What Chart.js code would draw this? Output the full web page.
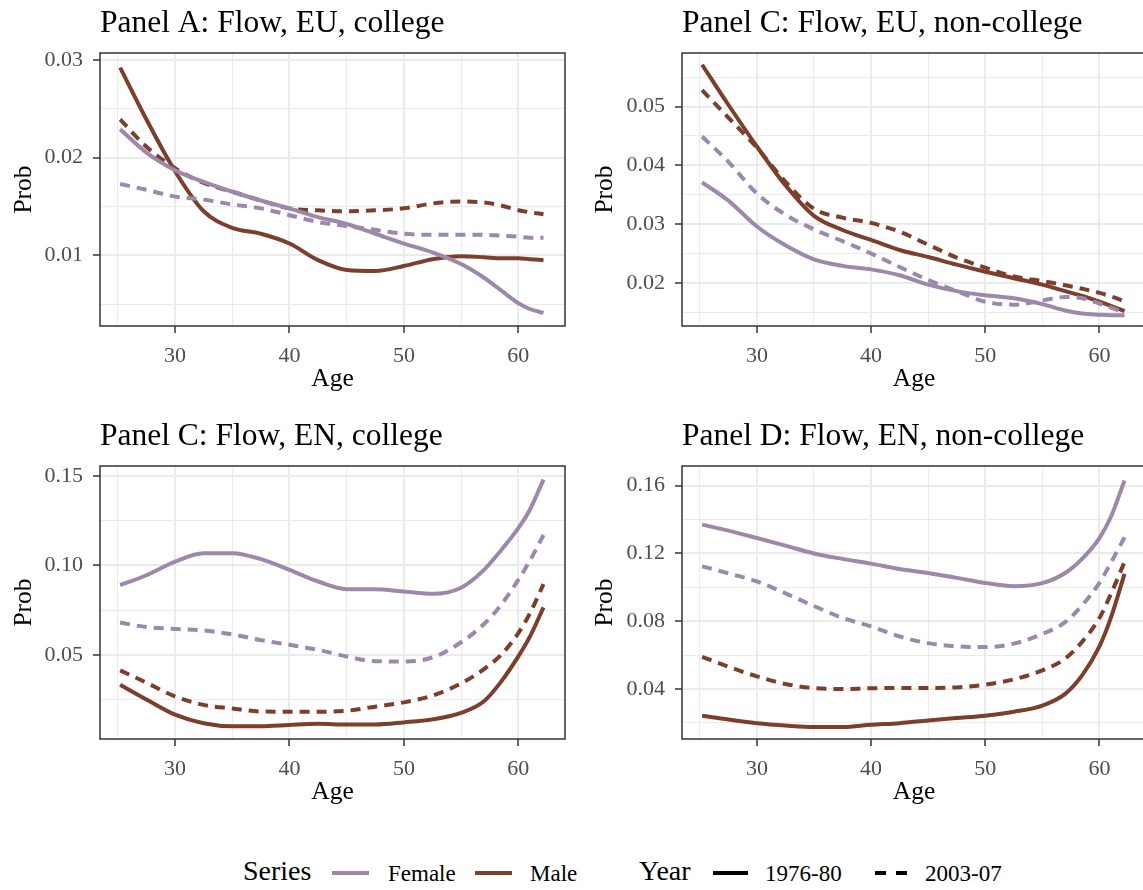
<!DOCTYPE html>
<html>
<head>
<meta charset="utf-8">
<script src="https://cdn.jsdelivr.net/npm/chart.js@4.4.0/dist/chart.umd.min.js"></script>
<style>
  html, body { margin: 0; padding: 0; background: #fff; width: 1143px; height: 890px; overflow: hidden; position: relative; font-family: "Liberation Serif", serif; }
  canvas { position: absolute; }
  .lg { position: absolute; white-space: nowrap; line-height: 1; color: #000; }
  .key { position: absolute; height: 4px; }
</style>
</head>
<body>
<canvas id="pA" width="580" height="410" style="left:0;top:0"></canvas>
<canvas id="pB" width="580" height="410" style="left:581px;top:0"></canvas>
<canvas id="pC" width="580" height="413" style="left:0;top:410px"></canvas>
<canvas id="pD" width="580" height="413" style="left:581px;top:410px"></canvas>

<div class="lg" style="left:243px;top:857px;font-size:28px">Series</div>
<div class="key" style="left:332px;top:871px;width:37px;background:#9c88ab"></div>
<div class="lg" style="left:388px;top:862px;font-size:23px">Female</div>
<div class="key" style="left:475px;top:871px;width:37px;background:#7b3f2b"></div>
<div class="lg" style="left:530px;top:862px;font-size:23px">Male</div>
<div class="lg" style="left:639px;top:857px;font-size:28px">Year</div>
<div class="key" style="left:713px;top:871px;width:35px;background:#000"></div>
<div class="lg" style="left:765px;top:862px;font-size:23px">1976-80</div>
<div class="key" style="left:875px;top:871px;width:11px;background:#000"></div>
<div class="key" style="left:896px;top:871px;width:11px;background:#000"></div>
<div class="lg" style="left:925px;top:862px;font-size:23px">2003-07</div>

<script>
// ages at which the smoothed profiles are read
const ages = [25.2, 27.5, 30, 32.5, 35, 37.5, 40, 42.5, 45, 47.5, 50, 52.5, 55, 57, 58.5, 60, 61, 62.2];

// Panel A: Flow, EU, college
const euColFemale7680 = [0.0229, 0.0205, 0.0187, 0.0175, 0.0165, 0.0156, 0.0148, 0.0139, 0.0132, 0.0122, 0.0112, 0.0103, 0.0091, 0.0077, 0.0064, 0.0051, 0.0045, 0.0041];
const euColFemale0307 = [0.0173, 0.0167, 0.0160, 0.0157, 0.0152, 0.0148, 0.0141, 0.0134, 0.0130, 0.0126, 0.0122, 0.0121, 0.0121, 0.0121, 0.0120, 0.0119, 0.0118, 0.0118];
const euColMale7680 = [0.0292, 0.0239, 0.0186, 0.0145, 0.0128, 0.0122, 0.0112, 0.0095, 0.0085, 0.0084, 0.0089, 0.0096, 0.0099, 0.0098, 0.0097, 0.0097, 0.0096, 0.0095];
const euColMale0307 = [0.0239, 0.0211, 0.0189, 0.0174, 0.0165, 0.0156, 0.0148, 0.0146, 0.0145, 0.0146, 0.0148, 0.0153, 0.0155, 0.0154, 0.0151, 0.0146, 0.0144, 0.0142];

// Panel C (top right): Flow, EU, non-college
const euNcFemale7680 = [0.0371, 0.0340, 0.0296, 0.0264, 0.0240, 0.0229, 0.0223, 0.0213, 0.0197, 0.0186, 0.0179, 0.0174, 0.0164, 0.0153, 0.0148, 0.0146, 0.0145, 0.0145];
const euNcFemale0307 = [0.0449, 0.0406, 0.0352, 0.0316, 0.0291, 0.0271, 0.0250, 0.0227, 0.0205, 0.0186, 0.0168, 0.0163, 0.0170, 0.0176, 0.0174, 0.0165, 0.0158, 0.0149];
const euNcMale7680 = [0.0571, 0.0503, 0.0432, 0.0366, 0.0314, 0.0290, 0.0273, 0.0256, 0.0244, 0.0231, 0.0219, 0.0208, 0.0197, 0.0186, 0.0178, 0.0168, 0.0161, 0.0152];
const euNcMale0307 = [0.0528, 0.0481, 0.0430, 0.0372, 0.0326, 0.0311, 0.0302, 0.0287, 0.0265, 0.0243, 0.0226, 0.0211, 0.0203, 0.0196, 0.0190, 0.0183, 0.0177, 0.0169];

// Panel C (bottom left): Flow, EN, college
const enColFemale7680 = [0.0890, 0.0945, 0.1021, 0.1068, 0.1068, 0.1035, 0.0975, 0.0910, 0.0867, 0.0866, 0.0854, 0.0841, 0.0875, 0.0975, 0.1085, 0.1208, 0.1310, 0.1480];
const enColFemale0307 = [0.0681, 0.0655, 0.0645, 0.0636, 0.0614, 0.0582, 0.0556, 0.0528, 0.0491, 0.0464, 0.0463, 0.0485, 0.0570, 0.0672, 0.0780, 0.0919, 0.1025, 0.1170];
const enColMale7680 = [0.0333, 0.0250, 0.0165, 0.0117, 0.0100, 0.0100, 0.0108, 0.0114, 0.0110, 0.0110, 0.0122, 0.0139, 0.0175, 0.0240, 0.0350, 0.0491, 0.0600, 0.0765];
const enColMale0307 = [0.0413, 0.0344, 0.0267, 0.0220, 0.0200, 0.0183, 0.0182, 0.0182, 0.0187, 0.0210, 0.0234, 0.0272, 0.0340, 0.0420, 0.0500, 0.0621, 0.0730, 0.0895];

// Panel D: Flow, EN, non-college
const enNcFemale7680 = [0.1370, 0.1335, 0.1291, 0.1246, 0.1200, 0.1168, 0.1140, 0.1108, 0.1085, 0.1056, 0.1026, 0.1007, 0.1025, 0.1085, 0.1170, 0.1291, 0.1415, 0.1630];
const enNcFemale0307 = [0.1124, 0.1083, 0.1035, 0.0965, 0.0890, 0.0820, 0.0770, 0.0710, 0.0671, 0.0652, 0.0648, 0.0668, 0.0725, 0.0795, 0.0895, 0.1026, 0.1145, 0.1295];
const enNcMale7680 = [0.0243, 0.0220, 0.0199, 0.0185, 0.0176, 0.0176, 0.0189, 0.0199, 0.0215, 0.0229, 0.0243, 0.0266, 0.0303, 0.0372, 0.0482, 0.0652, 0.0820, 0.1080];
const enNcMale0307 = [0.0590, 0.0532, 0.0475, 0.0430, 0.0406, 0.0400, 0.0405, 0.0406, 0.0406, 0.0410, 0.0426, 0.0457, 0.0510, 0.0580, 0.0680, 0.0819, 0.0960, 0.1150];

// axis ticks
const xMajor = [30, 40, 50, 60];
const xMinor = [25, 35, 45, 55];
const yMajorA = [0.01, 0.02, 0.03];
const yMinorA = [0.005, 0.015, 0.025];
const yMajorB = [0.02, 0.03, 0.04, 0.05];
const yMinorB = [0.015, 0.025, 0.035, 0.045, 0.055];
const yMajorC = [0.05, 0.10, 0.15];
const yMinorC = [0.025, 0.075, 0.125];
const yMajorD = [0.04, 0.08, 0.12, 0.16];
const yMinorD = [0.02, 0.06, 0.10, 0.14];

const femaleColor = "#9c88ab";
const maleColor = "#7b3f2b";
const serif = "'Liberation Serif', 'Times New Roman', serif";

const isIn = (list, v) => list.some(m => Math.abs(m - v) < 1e-9);

const panelDecor = {
  id: "panelDecor",
  afterDraw(chart, args, opts) {
    const { ctx, chartArea } = chart;
    ctx.save();
    ctx.strokeStyle = "#333333";
    ctx.lineWidth = 1.5;
    ctx.strokeRect(chartArea.left, chartArea.top, chartArea.right - chartArea.left, chartArea.bottom - chartArea.top);
    ctx.fillStyle = "#000";
    ctx.font = "31.5px " + serif;
    ctx.textBaseline = "alphabetic";
    ctx.textAlign = "left";
    ctx.fillText(opts.text, chartArea.left, chartArea.top - 21);
    ctx.restore();
  }
};

function makeAxis(majors, minors, min, max, isX, fitSize, title) {
  const all = majors.concat(minors).sort((a, b) => a - b);
  return {
    type: "linear",
    min: min,
    max: max,
    afterBuildTicks: (scale) => { scale.ticks = all.map(v => ({ value: v })); },
    afterFit: (scale) => { if (isX) scale.height = fitSize; else scale.width = fitSize; },
    border: { display: false },
    grid: {
      color: "#ebebeb",
      lineWidth: (c) => (c.tick && isIn(majors, c.tick.value)) ? 2 : 1,
      tickColor: (c) => (c.tick && isIn(majors, c.tick.value)) ? "#333333" : "rgba(0,0,0,0)",
      tickLength: 7,
      tickWidth: 1.5
    },
    ticks: {
      autoSkip: false,
      maxRotation: 0,
      padding: 10,
      color: "#4d4d4d",
      font: { family: serif, size: 22 },
      callback: (v) => isIn(majors, v) ? (isX ? String(v) : v.toFixed(2)) : ""
    },
    title: {
      display: true,
      text: title,
      color: "#000",
      font: { family: serif, size: 25.5 },
      padding: isX ? { top: 0, bottom: 15 } : { top: 9, bottom: 0 }
    }
  };
}

function series(vals, color, dashed) {
  return {
    data: ages.map((a, i) => ({ x: a, y: vals[i] })),
    borderColor: color,
    borderWidth: 4,
    borderDash: dashed ? [10, 7] : [],
    pointRadius: 0,
    cubicInterpolationMode: "monotone",
    fill: false
  };
}

function drawPanel(id, title, f7680, f0307, m7680, m0307, yMaj, yMin, yLo, yHi, yWidth, padTop) {
  new Chart(document.getElementById(id), {
    type: "line",
    data: {
      datasets: [
        series(f0307, femaleColor, true),
        series(f7680, femaleColor, false),
        series(m0307, maleColor, true),
        series(m7680, maleColor, false)
      ]
    },
    options: {
      responsive: false,
      animation: false,
      layout: { padding: { top: padTop, right: 15, left: 0, bottom: 0 } },
      plugins: { legend: { display: false }, tooltip: { enabled: false }, panelDecor: { text: title } },
      scales: {
        x: makeAxis(xMajor, xMinor, 23.44, 64.08, true, 84, "Age"),
        y: makeAxis(yMaj, yMin, yLo, yHi, false, yWidth, "Prob")
      }
    },
    plugins: [panelDecor]
  });
}

drawPanel("pA", "Panel A: Flow, EU, college", euColFemale7680, euColFemale0307, euColMale7680, euColMale0307,
  yMajorA, yMinorA, 0.00276, 0.0307, 100, 53);
drawPanel("pB", "Panel C: Flow, EU, non-college", euNcFemale7680, euNcFemale0307, euNcMale7680, euNcMale0307,
  yMajorB, yMinorB, 0.01267, 0.0591, 101, 53);
drawPanel("pC", "Panel C: Flow, EN, college", enColFemale7680, enColFemale0307, enColMale7680, enColMale0307,
  yMajorC, yMinorC, 0.00291, 0.1556, 100, 56);
drawPanel("pD", "Panel D: Flow, EN, non-college", enNcFemale7680, enNcFemale0307, enNcMale7680, enNcMale0307,
  yMajorD, yMinorD, 0.01055, 0.1716, 101, 56);
</script>
</body>
</html>
